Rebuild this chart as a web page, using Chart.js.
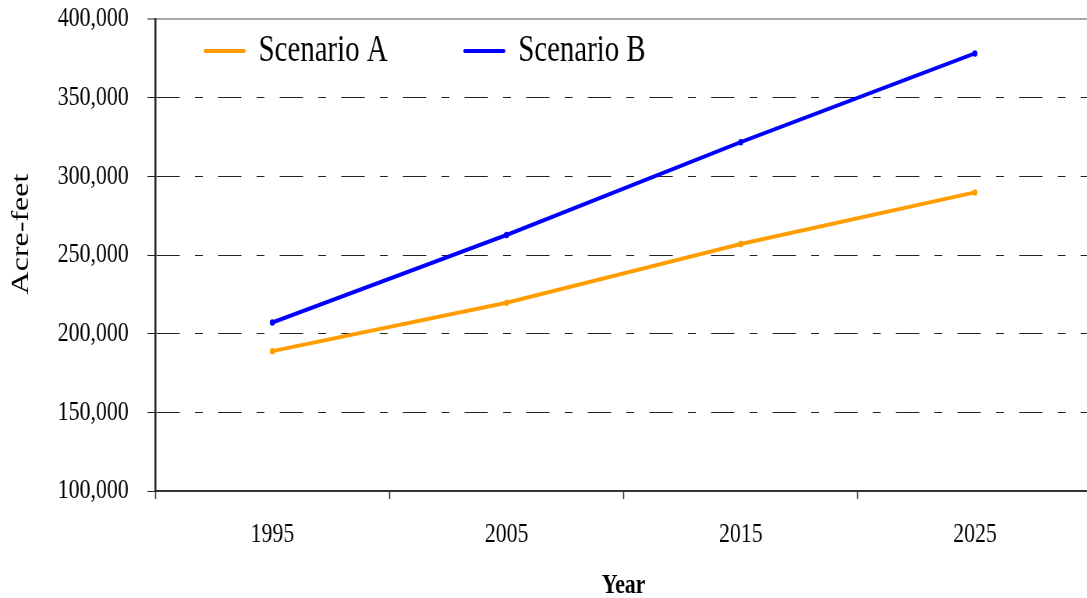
<!DOCTYPE html>
<html><head><meta charset="utf-8">
<script src="https://cdn.jsdelivr.net/npm/chart.js@4"></script>
<style>
html,body{margin:0;padding:0;background:#fff;overflow:hidden;width:1087px;height:598px;}
#wrap{position:absolute;left:0;top:0;width:1404px;height:598px;transform:scaleX(0.78);transform-origin:0 0;}
canvas{display:block;}
</style></head><body>
<div id="wrap"><canvas id="c" width="1404" height="598"></canvas></div>
<script>
const years = ['1995', '2005', '2015', '2025'];
const scenarioA = [188900, 219600, 257000, 289800];
const scenarioB = [207100, 262700, 321700, 378100];
const seriesNames = ['Scenario A', 'Scenario B'];
const yMin = 100000;
const yMax = 400000;
const yStep = 50000;
const xTitle = 'Year';
const yTitle = 'Acre-feet';

const colorA = '#FF9D00';
const colorB = '#0000FF';
const serif = "'Liberation Serif', 'Times New Roman', serif";
Chart.defaults.font.family = serif;
Chart.defaults.color = '#000';

// place the (library-drawn) legend inside the plot area, top-left,
// and raise the y-axis title a little as in the original
const layoutTweaks = {
  id: 'layoutTweaks',
  afterLayout(chart) {
    const lg = chart.legend, ca = chart.chartArea;
    if (!lg || !ca) return;
    lg.left = ca.left - 35;
    lg.right = lg.left + 1200;
    lg.top = ca.top - 85.5;
    lg.bottom = ca.top + 200;
    lg.width = lg.right - lg.left;
    lg.height = lg.bottom - lg.top;
    const ys = chart.scales.y;
    if (ys && !ys._titleRaised) {
      const orig = ys.drawTitle;
      ys.drawTitle = function () {
        this.top -= 21; this.bottom -= 21;
        orig.apply(this, arguments);
        this.top += 21; this.bottom += 21;
      };
      ys._titleRaised = true;
    }
  }
};

new Chart(document.getElementById('c'), {
  type: 'line',
  data: {
    labels: years,
    datasets: [
      { label: seriesNames[0], data: scenarioA, borderColor: colorA, backgroundColor: colorA,
        borderWidth: 4, pointRadius: 3.2, pointBorderWidth: 0, pointBackgroundColor: colorA, tension: 0 },
      { label: seriesNames[1], data: scenarioB, borderColor: colorB, backgroundColor: colorB,
        borderWidth: 4, pointRadius: 3.2, pointBorderWidth: 0, pointBackgroundColor: colorB, tension: 0 }
    ]
  },
  options: {
    responsive: false,
    animation: false,
    devicePixelRatio: 1,
    layout: { padding: { top: 18, left: 0, right: 0, bottom: 0 } },
    plugins: {
      tooltip: { enabled: false },
      legend: {
        position: 'top',
        align: 'start',
        maxHeight: 1,
        labels: {
          usePointStyle: true,
          pointStyle: 'line',
          pointStyleWidth: 50,
          boxHeight: 4,
          padding: 99,
          color: '#000',
          font: { family: serif, size: 37 },
          generateLabels(chart) {
            const items = Chart.defaults.plugins.legend.labels.generateLabels(chart);
            items.forEach(it => {
              const ds = chart.data.datasets[it.datasetIndex];
              it.strokeStyle = ds.borderColor;
              it.fillStyle = ds.borderColor;
              it.lineWidth = ds.borderWidth;
              it.lineCap = 'round';
              it.pointStyle = 'line';
            });
            return items;
          }
        }
      }
    },
    scales: {
      x: {
        type: 'category',
        offset: true,
        grid: { offset: true, drawOnChartArea: false, drawTicks: true, tickLength: 8,
                tickColor: '#333', tickWidth: 1.5 },
        border: { display: true, color: '#333', width: 2 },
        ticks: { padding: 19, color: '#000', font: { family: serif, size: 28 } },
        title: { display: true, text: xTitle, color: '#000', padding: { top: 0, bottom: 0 },
                 font: { family: serif, size: 28, weight: 'bold', lineHeight: 0.9 } },
        afterFit(scale) { scale.height = 107; }
      },
      y: {
        min: yMin, max: yMax,
        ticks: { stepSize: yStep, padding: 24, color: '#000', font: { family: serif, size: 28 },
                 callback: v => Number(v).toLocaleString('en-US') },
        grid: {
          color: c => (c.tick && c.tick.value === yMax) ? '#a8a8a8' : '#222',
          lineWidth: c => (c.tick && c.tick.value === yMax) ? 2 : 1,
          tickLength: 10, tickColor: '#222', tickWidth: 1, drawTicks: true
        },
        border: {
          display: true, color: '#222', width: 2.5,
          dash: c => (c.type === 'tick' && c.tick && c.tick.value !== yMax) ? [30, 19.5, 10, 19.5] : []
        },
        title: { display: true, text: yTitle, color: '#000', padding: { top: 8, bottom: 0 },
                 font: { family: serif, size: 32, weight: 'normal' } },
        afterFit(scale) { scale.width = 199; scale.paddingTop = 0; scale.paddingBottom = 0; }
      }
    }
  },
  plugins: [layoutTweaks]
});
</script>
</body></html>
